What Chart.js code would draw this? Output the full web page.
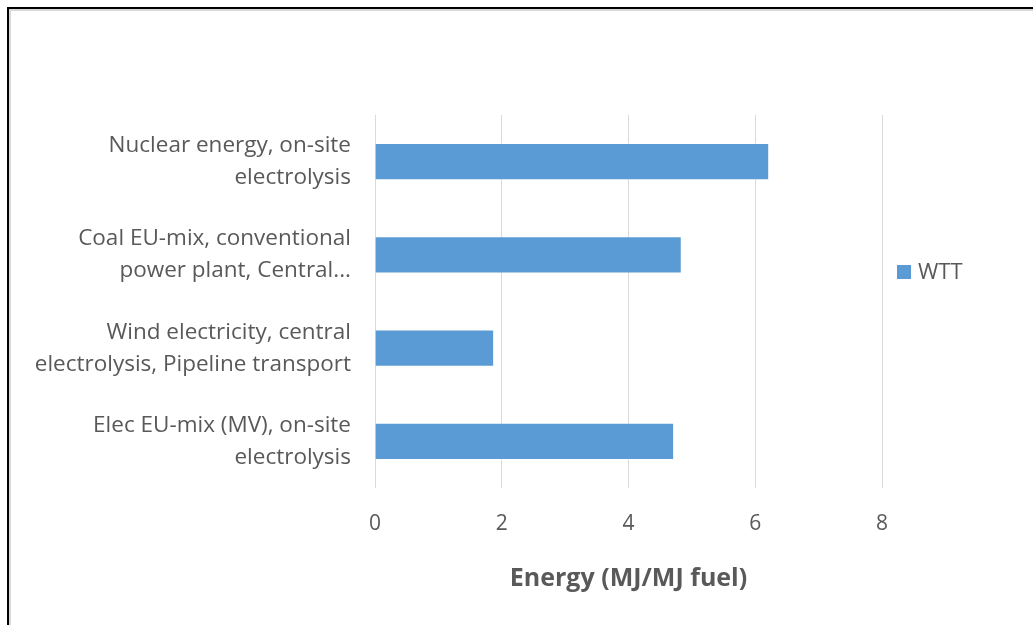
<!DOCTYPE html>
<html>
<head>
<meta charset="utf-8">
<script src="https://cdn.jsdelivr.net/npm/chart.js@4"></script>
<style>
  html, body { margin: 0; padding: 0; background: #fff; }
  #wrap { position: relative; width: 1033px; height: 625px; overflow: hidden; }
  #chart { position: absolute; left: 0; top: 0; }
  #frame {
    position: absolute; left: 7px; top: 7px; width: 1040px; height: 640px;
    border-top: 2px solid #000; border-left: 2px solid #000;
    box-shadow: inset 2px 2px 0 #d9d9d9;
    pointer-events: none;
  }
</style>
</head>
<body>
<div id="wrap">
  <canvas id="chart" width="1033" height="625"></canvas>
  <div id="frame"></div>
</div>
<script>
const categories = [
    ['Nuclear energy, on-site', 'electrolysis'],
    ['Coal EU-mix, conventional', 'power plant, Central...'],
    ['Wind electricity, central', 'electrolysis, Pipeline transport'],
    ['Elec EU-mix (MV), on-site', 'electrolysis']
];
const wttValues = [6.22, 4.84, 1.88, 4.72];
const seriesName = 'WTT';
const axisTitle = 'Energy (MJ/MJ fuel)';

const barColor = '#5B9BD5';
const textColor = '#595959';
const fontFamily = '"Open Sans"';

// simple legend drawn to the right of the plot, like the Excel one
const sideLegend = {
    id: 'sideLegend',
    afterDraw(chart) {
        const ctx = chart.ctx;
        const ds = chart.data.datasets[0];
        ctx.save();
        ctx.fillStyle = ds.backgroundColor;
        ctx.fillRect(897, 265, 14, 14);
        ctx.fillStyle = textColor;
        ctx.font = '22px ' + fontFamily;
        ctx.textBaseline = 'middle';
        ctx.fillText(ds.label, 918, 273);
        ctx.restore();
    }
};

const ctx = document.getElementById('chart');
const chart = new Chart(ctx, {
    type: 'bar',
    data: {
        labels: categories,
        datasets: [{
            label: seriesName,
            data: wttValues,
            backgroundColor: barColor,
            borderColor: 'rgba(255,255,255,0.5)',
            borderWidth: 1,
            categoryPercentage: 0.8,
            barPercentage: 0.5
        }]
    },
    options: {
        indexAxis: 'y',
        responsive: false,
        animation: false,
        layout: {
            padding: { top: 115, right: 151, bottom: 0, left: 0 }
        },
        plugins: {
            legend: { display: false },
            tooltip: { enabled: false }
        },
        scales: {
            x: {
                min: 0,
                max: 8,
                afterFit(scale) { scale.height = 137; },
                grid: { color: '#d9d9d9', lineWidth: 1, drawTicks: false },
                border: { display: false },
                ticks: {
                    stepSize: 2,
                    padding: 23,
                    color: textColor,
                    font: { family: fontFamily, size: 21 }
                },
                title: {
                    display: true,
                    text: axisTitle,
                    color: textColor,
                    padding: { top: 0, bottom: 31 },
                    font: { family: fontFamily, size: 25, weight: 'bold' }
                }
            },
            y: {
                afterFit(scale) { scale.width = 375; },
                grid: { display: false, drawTicks: false },
                border: { display: false },
                ticks: {
                    padding: 24,
                    color: textColor,
                    font: { family: fontFamily, size: 22.5, lineHeight: 1.42 }
                }
            }
        }
    },
    plugins: [sideLegend]
});
</script>
</body>
</html>
